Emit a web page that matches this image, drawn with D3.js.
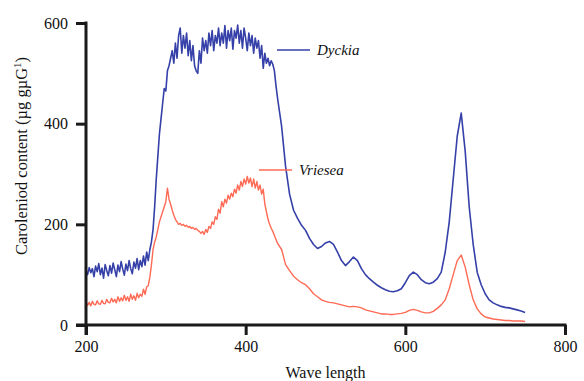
<!DOCTYPE html>
<html>
<head>
<meta charset="utf-8">
<script src="https://cdn.jsdelivr.net/npm/d3@7"></script>
<style>
  body { margin: 0; background: #fff; }
  svg { display: block; font-family: "Liberation Serif", "DejaVu Serif", serif; }
</style>
</head>
<body>
<svg id="chart" width="584" height="381"></svg>
<script>
// absorbance-like spectra, [wave length, content]
const dyckia = [
  [200,108],[202,100],[204,114],[206,104],[208,112],[210,96],[212,117],[214,106],[216,122],[218,100],
  [220,113],[222,93],[224,120],[226,108],[228,98],[230,118],[232,103],[234,123],[236,110],[238,96],
  [240,119],[242,106],[244,126],[246,111],[248,99],[250,121],[252,108],[254,128],[256,112],[258,102],
  [260,125],[262,113],[264,132],[266,110],[268,128],[270,116],[272,137],[274,119],[276,145],[278,128],
  [280,150],[282,165],[284,190],[286,235],[288,290],[290,335],[292,380],[294,410],[296,440],[298,470],
  [300,465],[302,505],[304,515],[306,530],[308,545],[310,520],[312,560],[314,530],[316,575],[318,590],
  [320,540],[322,575],[324,550],[326,580],[328,535],[330,565],[332,525],[334,555],[336,515],[338,505],
  [340,500],[342,545],[344,520],[346,570],[348,545],[350,565],[352,540],[354,580],[356,555],[358,585],
  [360,545],[362,575],[364,560],[366,590],[368,555],[370,580],[372,560],[374,595],[376,550],[378,585],
  [380,565],[382,590],[384,548],[386,585],[388,570],[390,596],[392,560],[394,585],[396,550],[398,590],
  [400,570],[402,545],[404,580],[406,555],[408,575],[410,540],[412,570],[414,550],[416,565],[418,530],
  [420,555],[422,510],[424,540],[426,520],[428,530],[430,515],[432,525],[434,518],[436,505],[438,475],
  [440,450],[445,395],[450,315],[455,260],[460,228],[465,212],[470,198],[475,188],[480,172],[485,160],
  [490,152],[495,156],[500,163],[505,166],[510,160],[515,145],[520,128],[525,118],[530,126],[535,135],
  [540,128],[545,112],[550,100],[555,92],[560,85],[565,79],[570,74],[575,70],[580,67],[585,66],
  [590,68],[595,72],[600,84],[605,98],[610,105],[615,100],[620,90],[625,84],[630,82],[635,85],
  [640,92],[645,105],[650,145],[655,205],[660,290],[665,375],[670,421],[675,345],[680,235],[685,160],
  [690,105],[695,80],[700,62],[705,50],[710,44],[715,40],[720,37],[725,35],[730,34],[735,32],
  [740,30],[745,28],[750,25]
];

const vriesea = [
  [200,45],[202,39],[204,45],[206,38],[208,47],[210,41],[212,40],[214,48],[216,42],[218,41],
  [220,49],[222,43],[224,42],[226,51],[228,45],[230,44],[232,53],[234,46],[236,51],[238,44],
  [240,56],[242,47],[244,54],[246,48],[248,59],[250,49],[252,56],[254,47],[256,61],[258,51],
  [260,58],[262,49],[264,63],[266,54],[268,61],[270,57],[272,71],[274,61],[276,76],[278,78],
  [280,95],[282,120],[284,150],[286,165],[288,175],[290,190],[292,205],[294,215],[296,225],[298,235],
  [300,245],[302,272],[304,250],[306,240],[308,228],[310,218],[312,210],[314,205],[316,200],[318,202],
  [320,198],[322,200],[324,196],[326,198],[328,194],[330,196],[332,192],[334,194],[336,190],[338,192],
  [340,188],[342,186],[344,182],[346,186],[348,180],[350,190],[352,184],[354,196],[356,192],[358,205],
  [360,200],[362,215],[364,210],[366,230],[368,222],[370,245],[372,235],[374,250],[376,242],[378,258],
  [380,250],[382,262],[384,255],[386,270],[388,262],[390,278],[392,268],[394,285],[396,275],[398,290],
  [400,280],[402,295],[404,282],[406,292],[408,275],[410,290],[412,272],[414,285],[416,268],[418,278],
  [420,260],[422,270],[424,240],[426,225],[428,210],[430,200],[432,192],[434,186],[436,178],[438,170],
  [440,162],[445,150],[450,120],[455,108],[460,97],[465,90],[470,84],[475,80],[480,72],[485,62],
  [490,56],[495,50],[500,47],[505,45],[510,44],[515,42],[520,40],[525,38],[530,36],[535,37],
  [540,36],[545,34],[550,30],[555,28],[560,26],[565,24],[570,22],[575,22],[580,21],[585,21],
  [590,22],[595,23],[600,25],[605,29],[610,31],[615,29],[620,26],[625,24],[630,24],[635,27],
  [640,33],[645,40],[650,50],[655,72],[660,100],[665,128],[670,139],[675,115],[680,80],[685,50],
  [690,32],[695,22],[700,16],[705,14],[710,12],[715,11],[720,10],[725,9],[730,9],[735,8],
  [740,8],[745,8],[750,7]
];

const xTicks = [200, 400, 600, 800];
const yTicks = [0, 200, 400, 600];

const svg = d3.select('#chart');

const x = d3.scaleLinear().domain([200, 800]).range([86, 565]);
const y = d3.scaleLinear().domain([0, 600]).range([325, 23]);

const axisColor = '#1a1a1a';

// curves
const line = d3.line()
  .x(d => x(d[0]))
  .y(d => y(d[1]));

svg.append('path')
  .datum(vriesea)
  .attr('fill', 'none')
  .attr('stroke', '#ff6a55')
  .attr('stroke-width', 1.4)
  .attr('stroke-linejoin', 'round')
  .attr('d', line);

svg.append('path')
  .datum(dyckia)
  .attr('fill', 'none')
  .attr('stroke', '#3540a8')
  .attr('stroke-width', 1.6)
  .attr('stroke-linejoin', 'round')
  .attr('d', line);

// axes
const xAxis = g => g
  .attr('transform', `translate(0,${y(0)})`)
  .call(d3.axisBottom(x).tickValues(xTicks).tickSize(10).tickPadding(6).tickFormat(d3.format('d')));

const yAxis = g => g
  .attr('transform', `translate(${x(200)},0)`)
  .call(d3.axisLeft(y).tickValues(yTicks).tickSize(10).tickPadding(8).tickFormat(d3.format('d')));

const gx = svg.append('g').call(xAxis);
const gy = svg.append('g').call(yAxis);

[gx, gy].forEach(g => {
  g.attr('font-family', null);
  g.select('.domain').remove();
  g.selectAll('line').attr('stroke', axisColor).attr('stroke-width', 3);
  g.selectAll('text')
    .attr('fill', '#111')
    .style('font-family', '"Liberation Serif", serif')
    .style('font-size', '16px');
});

svg.append('line')
  .attr('x1', x(200) - 10).attr('x2', x(800) + 1.5)
  .attr('y1', y(0)).attr('y2', y(0))
  .attr('stroke', axisColor).attr('stroke-width', 3);

svg.append('line')
  .attr('x1', x(200)).attr('x2', x(200))
  .attr('y1', y(600) - 1.5).attr('y2', y(0) + 10)
  .attr('stroke', axisColor).attr('stroke-width', 3);

// axis titles
svg.append('text')
  .attr('x', x(500))
  .attr('y', 378)
  .attr('text-anchor', 'middle')
  .style('font-size', '16px')
  .attr('fill', '#111')
  .text('Wave length');

const yTitle = svg.append('text')
  .attr('transform', `translate(27,${156}) rotate(-90)`)
  .attr('text-anchor', 'middle')
  .style('font-size', '16.5px')
  .attr('fill', '#111');
yTitle.append('tspan').text('Caroleniod content (µg gµG');
yTitle.append('tspan').attr('dy', -6).style('font-size', '11px').text('1');
yTitle.append('tspan').attr('dy', 6).text(')');

// legend labels
const legend = [
  { name: 'Dyckia', color: '#3540a8', x0: 277, y0: 50 },
  { name: 'Vriesea', color: '#ff6a55', x0: 259, y0: 170 }
];

legend.forEach(l => {
  svg.append('line')
    .attr('x1', l.x0).attr('x2', l.x0 + 33)
    .attr('y1', l.y0).attr('y2', l.y0)
    .attr('stroke', l.color)
    .attr('stroke-width', 1.5);
  svg.append('text')
    .attr('x', l.x0 + 40)
    .attr('y', l.y0 + 5)
    .style('font-size', '15px')
    .style('font-style', 'italic')
    .attr('fill', '#111')
    .text(l.name);
});
</script>
</body>
</html>
